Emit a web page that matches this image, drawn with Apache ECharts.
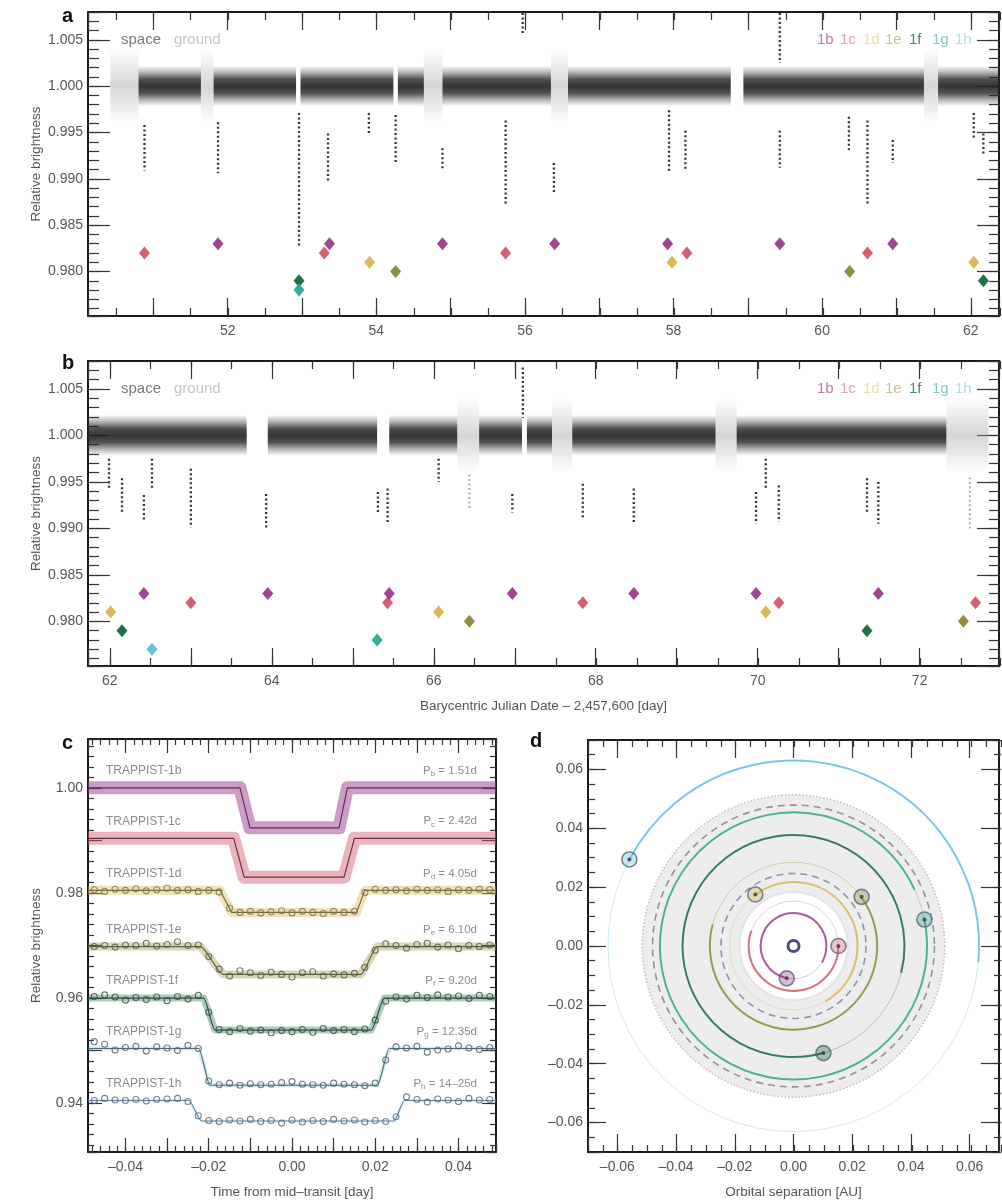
<!DOCTYPE html>
<html>
<head>
<meta charset="utf-8">
<script src="https://cdn.jsdelivr.net/npm/echarts@6.0.0/dist/echarts.min.js"></script>
<style>
  html, body { margin: 0; padding: 0; background: #fff; }
  #chart { width: 1002px; height: 1201px; }
</style>
</head>
<body>
<div id="chart"></div>
<script>
const FONT = "'Liberation Sans', Arial, Helvetica, sans-serif";

// planets
const planetNames = ['1b', '1c', '1d', '1e', '1f', '1g', '1h'];
const planetColors = ['#9c3a8b', '#d2566c', '#d9b44f', '#8b8933', '#15693c', '#2ba68f', '#5cbde2'];
const legendColors = ['#b87cb2', '#e4a2b2', '#eee0a6', '#c9c38c', '#3f8f63', '#88c8c6', '#b3dcef'];

// panels a / b : days = BJD - 2,457,600
const markerLevels = [0.983, 0.982, 0.981, 0.980, 0.979, 0.978, 0.977];
const baseLevel = 1.0;
const spaceSpread = 0.0022;
const groundSpread = 0.0040;

const spaceA = [[50.80, 51.64], [51.81, 52.92], [52.98, 54.23], [54.29, 54.64], [54.89, 56.35],
  [56.58, 58.77], [58.94, 61.37], [61.56, 62.38]];
const groundA = [[50.42, 50.80], [51.64, 51.81], [54.64, 54.89], [56.35, 56.58], [61.37, 61.56]];
// [day, top, bottom]
const streaksA = [[50.88, 0.9958, 0.9909], [51.87, 0.9961, 0.9906], [52.96, 0.9971, 0.9826],
  [53.35, 0.9949, 0.9896], [53.90, 0.9971, 0.9948], [54.26, 0.9969, 0.9918], [54.89, 0.9933, 0.9909],
  [55.74, 0.9963, 0.9873], [56.39, 0.9917, 0.9884], [57.94, 0.9974, 0.9907], [58.16, 0.9952, 0.9909],
  [59.43, 0.9952, 0.9912], [60.36, 0.9967, 0.9931], [60.61, 0.9963, 0.9873], [60.95, 0.9942, 0.9917],
  [62.04, 0.9971, 0.9942], [62.17, 0.9949, 0.9927], [55.97, 1.0079, 1.0057], [59.43, 1.0079, 1.0025]];
// [day, planet index]
const transitsA = [[50.88, 1], [51.87, 0], [52.96, 4], [52.96, 5], [53.30, 1], [53.37, 0], [53.91, 2],
  [54.26, 3], [54.89, 0], [55.74, 1], [56.40, 0], [57.92, 0], [57.98, 2], [58.18, 1], [59.43, 0],
  [60.37, 3], [60.61, 1], [60.95, 0], [62.04, 2], [62.17, 4]];

const spaceB = [[61.73, 63.69], [63.95, 65.30], [65.45, 66.29], [66.56, 67.09], [67.15, 67.46],
  [67.71, 69.48], [69.74, 72.33]];
const groundB = [[66.29, 66.56], [67.46, 67.71], [69.48, 69.74], [72.33, 72.85]];
const streaksB = [[61.99, 0.9975, 0.9943], [62.15, 0.9954, 0.9917], [62.42, 0.9936, 0.9907],
  [62.52, 0.9975, 0.9943], [63.00, 0.9964, 0.9901], [63.93, 0.9937, 0.9899], [65.31, 0.9939, 0.9917],
  [65.43, 0.9943, 0.9905], [66.06, 0.9975, 0.9950], [66.97, 0.9937, 0.9917], [67.84, 0.9948, 0.9910],
  [68.47, 0.9943, 0.9905], [69.98, 0.9939, 0.9905], [70.10, 0.9975, 0.9943], [70.26, 0.9946, 0.9907],
  [71.35, 0.9954, 0.9917], [71.49, 0.9950, 0.9905], [67.10, 1.0073, 1.0019]];
const groundStreaksB = [[66.44, 0.9958, 0.9921], [72.62, 0.9955, 0.9900]];
const transitsB = [[62.01, 2], [62.15, 4], [62.42, 0], [62.52, 6], [63.00, 1], [63.95, 0], [65.30, 5],
  [65.43, 1], [65.45, 0], [66.06, 2], [66.44, 3], [66.97, 0], [67.84, 1], [68.47, 0], [69.98, 0],
  [70.10, 2], [70.26, 1], [71.35, 4], [71.49, 0], [72.54, 3], [72.69, 1]];

// panel c : phase-folded transits
const cLabels = ['TRAPPIST-1b', 'TRAPPIST-1c', 'TRAPPIST-1d', 'TRAPPIST-1e', 'TRAPPIST-1f', 'TRAPPIST-1g', 'TRAPPIST-1h'];
const cPeriods = ['1.51d', '2.42d', '4.05d', '6.10d', '9.20d', '12.35d', '14\u201325d'];
const cBase = [1.0000, 0.9904, 0.9805, 0.9698, 0.9600, 0.9504, 0.9405];
const cDepth = [0.0076, 0.0074, 0.0042, 0.0053, 0.0061, 0.0070, 0.0039];
const cIngress1 = [-0.0125, -0.0140, -0.0173, -0.0220, -0.0212, -0.0224, -0.0248];
const cIngress2 = [-0.0101, -0.0115, -0.0145, -0.0165, -0.0185, -0.0197, -0.0217];
const cEgress1 = [0.0113, 0.0125, 0.0155, 0.0165, 0.0190, 0.0205, 0.0245];
const cEgress2 = [0.0133, 0.0150, 0.0175, 0.0205, 0.0222, 0.0234, 0.0270];
const binTimes = [-0.0475, -0.045, -0.0425, -0.04, -0.0375, -0.035, -0.0325, -0.03, -0.0275, -0.025,
  -0.0225, -0.02, -0.0175, -0.015, -0.0125, -0.01, -0.0075, -0.005, -0.0025, 0, 0.0025, 0.005, 0.0075,
  0.01, 0.0125, 0.015, 0.0175, 0.02, 0.0225, 0.025, 0.0275, 0.03, 0.0325, 0.035, 0.0375, 0.04, 0.0425,
  0.045, 0.0475];
// binned points, ppt relative to each baseline
const binDevD = [0.1, -0.2, 0.2, 0.0, 0.3, -0.1, 0.1, 0.4, 0.0, 0.1, -0.2, 0.0, -0.3, -3.4, -4.2, -4.0,
  -4.3, -4.1, -3.9, -4.3, -4.0, -4.2, -4.4, -4.0, -4.2, -4.0, -0.4, 0.2, 0.0, 0.1, -0.1, 0.2, 0.0, 0.1,
  -0.2, 0.1, 0.0, 0.2, 0.1];
const binDevE = [0.0, 0.2, -0.1, 0.3, 0.2, 0.6, 0.1, 0.4, 0.9, 0.2, 0.3, -1.9, -4.3, -5.6, -4.6, -5.0,
  -5.5, -4.9, -5.3, -5.8, -5.0, -4.8, -5.6, -5.2, -5.4, -5.1, -4.0, -0.7, 0.5, 0.2, -0.3, 0.4, 0.6, -0.1,
  0.3, -0.4, 0.2, 0.0, 0.3];
const binDevF = [0.3, 0.6, 0.2, -0.4, 0.1, -0.3, 0.2, -0.5, 0.3, -0.2, 0.5, -2.7, -6.0, -6.4, -5.8, -6.3,
  -6.1, -6.6, -6.2, -6.4, -6.0, -6.5, -5.8, -6.2, -6.0, -6.4, -5.9, -4.2, -0.6, 0.2, -0.2, 0.5, 0.1, 0.6,
  0.2, 0.4, -0.1, 0.5, 0.3];
const binDevG = [1.3, 0.8, -0.3, 0.2, 0.4, -0.5, 0.3, 0.1, -0.4, 0.6, 0.0, -6.2, -6.9, -6.6, -7.0, -6.7,
  -6.9, -6.8, -6.5, -6.3, -6.8, -6.9, -7.0, -6.6, -6.8, -6.9, -7.1, -6.6, -2.2, 0.3, 0.1, 0.4, -0.7, -0.3,
  -0.1, 0.5, 0.1, -0.2, 0.2];
const binDevH = [0.0, 0.4, 0.1, 0.0, 0.2, -0.1, 0.2, 0.3, 0.4, -0.2, -2.9, -3.8, -4.0, -3.7, -3.9, -3.6,
  -4.0, -3.8, -4.3, -3.7, -4.1, -3.8, -4.0, -3.6, -3.9, -3.7, -4.1, -3.8, -4.0, -3.1, 0.7, 0.2, -0.3, 0.3,
  0.1, -0.2, 0.4, 0.1, 0.2];

// panel d : orbits (AU), angles in degrees
const orbitRadius = [0.0112, 0.0153, 0.0218, 0.0285, 0.0378, 0.0455, 0.0632];
const trailFrom = [258, 0, 127, 36, -74, 11.5, 152];
const trailTo = [-30, -200, -60, -195, -374, -335, -5];
const planetX = [-0.0023, 0.0153, -0.0130, 0.0232, 0.0102, 0.0446, -0.0559];
const planetY = [-0.0110, 0.0000, 0.0175, 0.0167, -0.0364, 0.0090, 0.0294];
const zoneInner = 0.018;
const zoneOuter = 0.0515;
const dashedRadii = [0.0247, 0.048];
const dottedRadii = [0.0515, 0.0185];

// axis ranges
const aX = [50.12, 62.38];
const bX = [61.73, 72.98];
const abY = [0.9752, 1.008];
const cX = [-0.049, 0.049];
const cY = [0.9307, 1.0093];
const dXY = [-0.07, 0.07];

const mult = (v, s) => Math.abs(v / s - Math.round(v / s)) < 1e-6;
const dash = s => s.replace('-', '\u2013');
const fmtDay = v => (mult(v, 2) ? String(Math.round(v)) : '');
const fmtAB = v => (mult(v, 0.005) ? v.toFixed(3) : '');
const fmt2 = v => (mult(v, 0.02) ? dash((Math.abs(v) < 1e-9 ? 0 : v).toFixed(2)) : '');

const panelRects = [
  { left: 88, top: 12, width: 912, height: 304 },
  { left: 88, top: 361, width: 912, height: 305 },
  { left: 88, top: 739, width: 408, height: 413 },
  { left: 588, top: 740, width: 413, height: 412 },
];
// per panel: x and y axis settings (major / minor via twin grids)
const axisCfg = [
  { x: { r: aX, maj: 10, min: 24, lMaj: 18, lMin: 8, fmt: fmtDay },
    y: { r: abY, maj: 6, min: 30, lMaj: 22, lMin: 11, fmt: fmtAB, name: 'Relative brightness', gap: 45 } },
  { x: { r: bX, maj: 10, min: 22, lMaj: 18, lMin: 8, fmt: fmtDay, name: 'Barycentric Julian Date \u2013 2,457,600 [day]', gap: 33 },
    y: { r: abY, maj: 6, min: 30, lMaj: 22, lMin: 11, fmt: fmtAB, name: 'Relative brightness', gap: 45 } },
  { x: { r: cX, maj: 10, min: 49, lMaj: 14, lMin: 6, fmt: fmt2, name: 'Time from mid\u2013transit [day]', gap: 33 },
    y: { r: cY, maj: 8, min: 39, lMaj: 14, lMin: 6, fmt: fmt2, name: 'Relative brightness', gap: 45 } },
  { x: { r: dXY, maj: 7, min: 28, lMaj: 18, lMin: 7, fmt: fmt2, name: 'Orbital separation [AU]', gap: 33 },
    y: { r: dXY, maj: 7, min: 28, lMaj: 18, lMin: 7, fmt: fmt2 } },
];

const grids = [], xAxes = [], yAxes = [];
panelRects.forEach((rect, p) => {
  [false, true].forEach(minor => {
    const gi = grids.length;
    grids.push(Object.assign({}, rect));
    ['x', 'y'].forEach(dim => {
      const c = axisCfg[p][dim];
      [0, 1].forEach(side => {
        const main = !minor && side === 0;
        const ax = {
          type: 'value', gridIndex: gi,
          position: dim === 'x' ? (side ? 'top' : 'bottom') : (side ? 'right' : 'left'),
          min: c.r[0], max: c.r[1],
          splitNumber: minor ? c.min : c.maj,
          axisLine: { show: !minor, onZero: false, lineStyle: { color: '#1a1a1a', width: 2 } },
          axisTick: { show: true, inside: true, length: minor ? c.lMin : c.lMaj,
            lineStyle: { color: '#333', width: 1.2 } },
          axisLabel: { show: main, formatter: c.fmt, color: '#555', fontSize: 14, fontFamily: FONT,
            margin: dim === 'x' ? 8 : 5 },
          splitLine: { show: false },
        };
        if (main && c.name) {
          Object.assign(ax, {
            name: c.name, nameLocation: 'middle', nameGap: c.gap, nameMoveOverlap: false,
            nameRotate: dim === 'x' ? 0 : 90,
            nameTextStyle: { color: '#555', fontSize: 13.5, fontFamily: FONT },
          });
        }
        (dim === 'x' ? xAxes : yAxes).push(ax);
      });
    });
  });
});
// series of panel p use axis index 4p
const AX = p => ({ xAxisIndex: 4 * p, yAxisIndex: 4 * p });

function bandSeries(p, segs, spread, rgb, alphas) {
  return Object.assign({
    type: 'custom', silent: true, z: 2,
    data: segs.map(s => [s[0], s[1], baseLevel]),
    encode: { x: [0, 1], y: 2 },
    renderItem(params, api) {
      const p0 = api.coord([api.value(0), api.value(2) + spread]);
      const p1 = api.coord([api.value(1), api.value(2) - spread]);
      const stops = alphas.map((a, i) => ({ offset: i / (alphas.length - 1), color: 'rgba(' + rgb + ',' + a + ')' }));
      return {
        type: 'rect',
        shape: { x: p0[0], y: p0[1], width: p1[0] - p0[0], height: p1[1] - p0[1] },
        style: { fill: { type: 'linear', x: 0, y: 0, x2: 0, y2: 1, colorStops: stops } },
      };
    },
  }, AX(p));
}
function streakSeries(p, data, color, width) {
  return Object.assign({
    type: 'custom', silent: true, z: 3,
    data: data,
    encode: { x: 0, y: [1, 2] },
    renderItem(params, api) {
      const a = api.coord([api.value(0), api.value(1)]);
      const b = api.coord([api.value(0), api.value(2)]);
      return {
        type: 'line',
        shape: { x1: a[0], y1: a[1], x2: b[0], y2: b[1] },
        style: { stroke: color, lineWidth: width, lineDash: [2, 2.5] },
      };
    },
  }, AX(p));
}
function transitSeries(p, data) {
  return Object.assign({
    type: 'scatter', symbol: 'diamond', symbolSize: [11, 13], z: 5,
    data: data.map(d => [d[0], markerLevels[d[1]], d[1]]),
    itemStyle: { color: q => planetColors[q.value[2]], opacity: 0.95 },
  }, AX(p));
}

const series = [];
// a and b
[[spaceA, groundA, streaksA, [], transitsA], [spaceB, groundB, streaksB, groundStreaksB, transitsB]]
  .forEach((set, p) => {
    series.push(bandSeries(p, set[1], groundSpread, '150,150,150', [0, 0.2, 0.4, 0.2, 0]));
    series.push(bandSeries(p, set[0], spaceSpread, '35,35,35', [0, 0.35, 0.8, 0.92, 0.8, 0.35, 0]));
    series.push(streakSeries(p, set[2], '#333', 2.3));
    series.push(streakSeries(p, set[3], '#aaa', 2));
    series.push(transitSeries(p, set[4]));
  });

// c
const bandWidth = [13, 13, 9, 8, 7, 4, 3];
const bandAlpha = [0.5, 0.45, 0.4, 0.35, 0.35, 0.2, 0.2];
const modelColors = ['#5a2f5a', '#6a3040', '#7a6a40', '#5f5f40', '#2f5040', '#4f6a80', '#6a84a8'];
const binDevs = [null, null, binDevD, binDevE, binDevF, binDevG, binDevH];
const circleColors = ['', '', '#7a7050', '#5a5a40', '#2f4f3f', '#4d5d6d', '#55677a'];
cBase.forEach((b, i) => {
  const bot = b - cDepth[i];
  const model = [[cX[0], b], [cIngress1[i], b], [cIngress2[i], bot], [cEgress1[i], bot],
    [cEgress2[i], b], [cX[1], b]];
  series.push(Object.assign({
    type: 'line', data: model, symbol: 'none', silent: true, z: 2,
    lineStyle: { color: planetColors[i], width: bandWidth[i], opacity: bandAlpha[i], join: 'round' },
  }, AX(2)));
  series.push(Object.assign({
    type: 'line', data: model, symbol: 'none', silent: true, z: 3,
    smooth: i >= 3 ? 0.25 : 0, smoothMonotone: 'x',
    lineStyle: { color: modelColors[i], width: 1.2 },
  }, AX(2)));
  if (binDevs[i]) {
    series.push(Object.assign({
      type: 'scatter', symbol: 'circle', symbolSize: 6, z: 4, silent: true,
      data: binTimes.map((t, k) => [t, b + binDevs[i][k] / 1000]),
      itemStyle: { color: 'rgba(255,255,255,0)', borderColor: circleColors[i], borderWidth: 1.1 },
    }, AX(2)));
  }
});
series.push(Object.assign({
  type: 'custom', silent: true, z: 6,
  data: cBase.map((b, i) => [0, b, i]),
  encode: { x: 0, y: 1 },
  renderItem(params, api) {
    const i = api.value(2);
    const l = api.coord([cX[0], api.value(1)]);
    const r = api.coord([cX[1], api.value(1)]);
    const sub = planetNames[i].slice(1);
    return {
      type: 'group', children: [
        { type: 'text', x: l[0] + 18, y: l[1] - 17,
          style: { text: cLabels[i], fill: '#8c8c8c', font: '12px ' + FONT, align: 'left', verticalAlign: 'middle' } },
        { type: 'text', x: r[0] - 19, y: r[1] - 17,
          style: { text: '{p|P}{s|' + sub + '}{p| = ' + cPeriods[i] + '}', align: 'right', verticalAlign: 'middle',
            rich: { p: { fontSize: 11.5, fontFamily: FONT, fill: '#8c8c8c', lineHeight: 14 },
                    s: { fontSize: 8, fontFamily: FONT, fill: '#8c8c8c', lineHeight: 14, verticalAlign: 'bottom', padding: [5, 0, 0, 0] } } } },
      ],
    };
  },
}, AX(2)));

// d
function circleLayer(data, z, build) {
  return Object.assign({
    type: 'custom', silent: true, z: z,
    data: data, encode: { x: 0, y: 1 },
    renderItem(params, api) {
      const c = api.coord([api.value(0), api.value(1)]);
      const rr = v => api.size([v, 0])[0];
      return build(params.dataIndex, c, rr, api);
    },
  }, AX(3));
}
series.push(circleLayer([[0, 0, zoneInner, zoneOuter]], 1, (i, c, rr, api) => ({
  type: 'ring', shape: { cx: c[0], cy: c[1], r0: rr(api.value(2)), r: rr(api.value(3)) },
  style: { fill: '#ededed' },
})));
series.push(circleLayer(dottedRadii.map(r => [0, 0, r]), 2, (i, c, rr, api) => ({
  type: 'circle', shape: { cx: c[0], cy: c[1], r: rr(api.value(2)) },
  style: { fill: 'none', stroke: i === 0 ? '#d3b4bf' : '#d8d8d8', lineWidth: 1.5, lineDash: [1.5, 2] },
})));
series.push(circleLayer(dashedRadii.map(r => [0, 0, r]), 2, (i, c, rr, api) => ({
  type: 'circle', shape: { cx: c[0], cy: c[1], r: rr(api.value(2)) },
  style: { fill: 'none', stroke: i === 0 ? '#8e92ab' : '#929292', lineWidth: 1.6, lineDash: [7, 5] },
})));
series.push(circleLayer(orbitRadius.map(r => [0, 0, r]), 3, (i, c, rr, api) => ({
  type: 'circle', shape: { cx: c[0], cy: c[1], r: rr(api.value(2)) },
  style: { fill: 'none', stroke: planetColors[i], lineWidth: 1, opacity: 0.3 },
})));
series.push(circleLayer(orbitRadius.map((r, i) => [0, 0, r, trailFrom[i], trailTo[i]]), 4, (i, c, rr, api) => ({
  type: 'arc',
  shape: { cx: c[0], cy: c[1], r: rr(api.value(2)), startAngle: -api.value(3) * Math.PI / 180,
    endAngle: -api.value(4) * Math.PI / 180, clockwise: true },
  style: { fill: null, stroke: planetColors[i], lineWidth: 2, opacity: 0.8 },
})));
series.push(Object.assign({
  type: 'scatter', symbol: 'circle', symbolSize: 15, z: 5, silent: true,
  data: planetX.map((x, i) => [x, planetY[i], i]),
  itemStyle: { color: q => planetColors[q.value[2]], opacity: 0.35 },
}, AX(3)));
series.push(Object.assign({
  type: 'scatter', symbol: 'circle', symbolSize: 15, z: 6, silent: true,
  data: planetX.map((x, i) => [x, planetY[i], i]),
  itemStyle: { color: 'rgba(255,255,255,0)', borderColor: q => planetColors[q.value[2]], borderWidth: 1.6 },
}, AX(3)));
series.push(Object.assign({
  type: 'scatter', symbol: 'circle', symbolSize: 4, z: 7, silent: true,
  data: planetX.map((x, i) => [x, planetY[i]]),
  itemStyle: { color: '#3a3a3a' },
}, AX(3)));
series.push(Object.assign({
  type: 'scatter', symbol: 'circle', symbolSize: 11, z: 7, silent: true,
  data: [[0, 0]],
  itemStyle: { color: '#fff', borderColor: '#1d2468', borderWidth: 3 },
}, AX(3)));

// texts: panel letters and legends
const graphics = [];
[['a', 62, 16], ['b', 62, 363], ['c', 62, 743], ['d', 530, 741]].forEach(l => {
  graphics.push({ type: 'text', x: l[1], y: l[2], silent: true,
    style: { text: l[0], font: 'bold 20px ' + FONT, fill: '#111', verticalAlign: 'middle' } });
});
const legendX = [817, 840, 863, 885, 909, 932, 955];
[40, 389].forEach(y => {
  graphics.push({ type: 'text', x: 121, y: y, silent: true,
    style: { text: 'space', font: '15px ' + FONT, fill: '#7a7a7a', verticalAlign: 'middle' } });
  graphics.push({ type: 'text', x: 174, y: y, silent: true,
    style: { text: 'ground', font: '15px ' + FONT, fill: '#c6c6c6', verticalAlign: 'middle' } });
  planetNames.forEach((n, i) => {
    graphics.push({ type: 'text', x: legendX[i], y: y, silent: true,
      style: { text: n, font: '15px ' + FONT, fill: legendColors[i], verticalAlign: 'middle' } });
  });
});

const chart = echarts.init(document.getElementById('chart'), null, { renderer: 'canvas' });
chart.setOption({
  animation: false,
  backgroundColor: '#fff',
  grid: grids,
  xAxis: xAxes,
  yAxis: yAxes,
  series: series,
  graphic: graphics,
});
</script>
</body>
</html>
